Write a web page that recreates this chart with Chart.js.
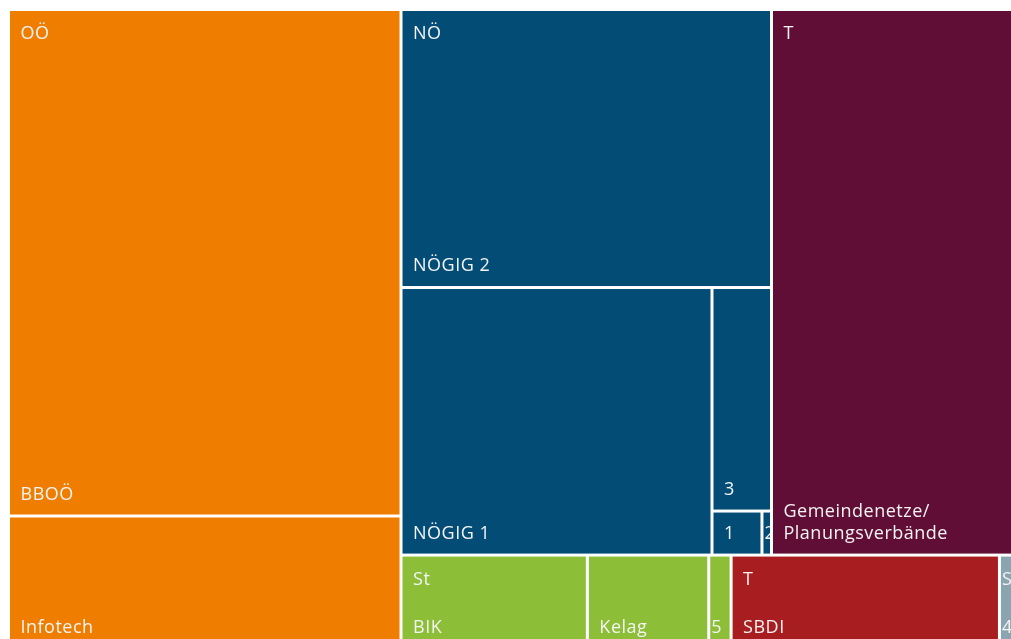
<!DOCTYPE html>
<html>
<head>
<meta charset="utf-8">
<script src="https://cdn.jsdelivr.net/npm/chart.js@4.4.0/dist/chart.umd.min.js"></script>
<style>
  html, body { margin: 0; padding: 0; background: #fff; overflow: hidden; }
  #frame { width: 1011px; height: 639px; overflow: hidden; position: relative; }
  #box { width: 1026px; height: 650px; position: absolute; left: 0; top: 0; }
</style>
</head>
<body>
<div id="frame"><div id="box"><canvas id="treemap"></canvas></div></div>
<script>
// groups (top level of the treemap)
const groupNames = ['OÖ', 'NÖ', 'T', 'St', 'T', 'S'];
const groupColors = ['#EF7D00', '#034C76', '#600E35', '#8DBE38', '#A81E20', '#8AA4B0'];

// leaves
const leafLabels = ['BBOÖ', 'Infotech', 'NÖGIG 2', 'NÖGIG 1', '3', '1', '2',
    'Gemeindenetze/\nPlanungsverbände', 'BIK', 'Kelag', '5', 'SBDI', '4'];
const leafGroup = [0, 0, 1, 1, 1, 1, 1, 2, 3, 3, 3, 4, 5];
const leafValues = [198.8, 52.2, 103.0, 83.2, 13.3, 2.2, 0.42, 138.3, 17.5, 11.4, 2.1, 25.2, 2.4];

// nesting of the leaves (by index), each level is split along its longer side
const tree = [
    [0, 1],
    [
        [[2, [3, [4, [5, 6]]]], [7]],
        [[8, 9, 10], [11], [12]]
    ]
];

function sumOf(node) {
    if (typeof node === 'number') return leafValues[node];
    return node.reduce((s, n) => s + sumOf(n), 0);
}

function layout(node, x0, y0, x1, y1, sx, sy, out) {
    if (typeof node === 'number') {
        out.push({i: node, x0: x0, y0: y0, x1: x1, y1: y1});
        return;
    }
    const total = sumOf(node);
    const w = Math.abs(sx.getPixelForValue(x1) - sx.getPixelForValue(x0));
    const h = Math.abs(sy.getPixelForValue(y1) - sy.getPixelForValue(y0));
    const wide = w >= h;
    let pos = wide ? x0 : y0;
    node.forEach(child => {
        const span = (wide ? x1 - x0 : y1 - y0) * sumOf(child) / total;
        if (wide) layout(child, pos, y0, pos + span, y1, sx, sy, out);
        else layout(child, x0, pos, x1, pos + span, sx, sy, out);
        pos += span;
    });
}

const treemapPlugin = {
    id: 'treemap',
    afterDraw(chart) {
        const c = chart.ctx;
        const sx = chart.scales.x;
        const sy = chart.scales.y;
        const cells = [];
        layout(tree, 0, 0, 1, 1, sx, sy, cells);

        c.save();
        cells.forEach(cell => {
            const left = sx.getPixelForValue(cell.x0) + 1.5;
            const right = sx.getPixelForValue(cell.x1) - 1.5;
            const top = sy.getPixelForValue(cell.y0) + 1.5;
            const bottom = sy.getPixelForValue(cell.y1) - 1.5;
            const g = leafGroup[cell.i];

            c.fillStyle = groupColors[g];
            c.fillRect(left, top, right - left, bottom - top);

            c.save();
            c.beginPath();
            c.rect(left, top, right - left, bottom - top);
            c.clip();
            c.font = '18px "Open Sans"';
            c.letterSpacing = '0.5px';
            c.fillStyle = '#F4F4F4';
            c.textAlign = 'left';
            c.textBaseline = 'alphabetic';
            const pad = (right - left) < 30 ? 1 : 10.5;

            // group name on the first leaf of the group
            if (leafGroup.indexOf(g) === cell.i) {
                c.fillText(groupNames[g], left + pad, top + 28);
            }
            const lines = leafLabels[cell.i].split('\n');
            lines.forEach((line, k) => {
                c.fillText(line, left + pad, bottom - 15 - (lines.length - 1 - k) * 22);
            });
            c.restore();
        });
        c.restore();
    }
};

new Chart(document.getElementById('treemap'), {
    type: 'scatter',
    data: { datasets: [{ data: [] }] },
    options: {
        responsive: true,
        maintainAspectRatio: false,
        animation: false,
        layout: { padding: { left: 8.5, top: 9.5, right: 1, bottom: 1 } },
        scales: {
            x: { type: 'linear', min: 0, max: 1, display: false },
            y: { type: 'linear', min: 0, max: 1, reverse: true, display: false }
        },
        plugins: {
            legend: { display: false },
            tooltip: { enabled: false }
        }
    },
    plugins: [treemapPlugin]
});
</script>
</body>
</html>
